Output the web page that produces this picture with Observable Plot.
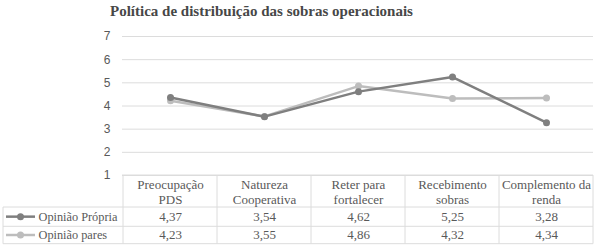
<!DOCTYPE html>
<html><head><meta charset="utf-8">
<script src="https://cdn.jsdelivr.net/npm/d3@7"></script>
<script src="https://cdn.jsdelivr.net/npm/@observablehq/plot@0.6"></script>
<style>
body{margin:0;background:#fff;}
#title{height:22px;line-height:22px;font-weight:bold;font-size:15px;font-family:"Liberation Serif","Times New Roman","DejaVu Serif",serif;color:#474747;padding-left:110px;white-space:nowrap}
</style></head><body>
<div id="title">Política de distribuição das sobras operacionais</div>
<div id="chart"></div>
<script>
const categories = ["Preocupação\nPDS","Natureza\nCooperativa","Reter para\nfortalecer","Recebimento\nsobras","Complemento da\nrenda"];
const seriesNames = ["Opinião Própria","Opinião pares"];
const opiniaoPropria = [4.37,3.54,4.62,5.25,3.28];
const opiniaoPares = [4.23,3.55,4.86,4.32,4.34];
const yTicks = [1,2,3,4,5,6,7];
const colors = ["#7f7f7f","#bdbdbd"];

const serif = "'Liberation Serif', 'Times New Roman', 'DejaVu Serif', serif";
const seriesValues = [opiniaoPropria, opiniaoPares];
const data = seriesNames.flatMap((s, si) => categories.map((c, i) => ({series: s, cat: c, value: seriesValues[si][i]})));
const fmt = v => d3.format(".2f")(v).replace(".", ",");
const gridColor = "#dcdcdc";
const textColor = "#595959";

function tableGrid(index, scales, values, dims) {
  const x = scales.x;
  const step = x(categories[1]) - x(categories[0]);
  const left = dims.marginLeft, right = dims.width - dims.marginRight;
  const top = dims.height - dims.marginBottom;
  const legendLeft = 3;
  const hdr = top + 32, r1 = hdr + 19.3, r2 = r1 + 17.4;
  const g = d3.create("svg:g").attr("fill", "none");
  const ln = (x1, y1, x2, y2) => g.append("line").attr("x1", x1).attr("y1", y1).attr("x2", x2).attr("y2", y2).attr("stroke", gridColor);
  ln(left, top, right, top);
  [hdr, r1, r2].forEach(y => ln(legendLeft, y, right, y));
  categories.forEach(c => ln(x(c) - step / 2, top, x(c) - step / 2, r2));
  ln(right, top, right, r2);
  ln(legendLeft, hdr, legendLeft, r2);
  [[hdr, r1], [r1, r2]].forEach(([a, b], si) => {
    const cy = (a + b) / 2;
    g.append("line").attr("x1", 6).attr("x2", 35).attr("y1", cy).attr("y2", cy)
      .attr("stroke", colors[si]).attr("stroke-width", 2.5);
    g.append("circle").attr("cx", 20.5).attr("cy", cy).attr("r", 3.5).attr("fill", colors[si]);
  });
  return g.node();
}

const marks = [
  Plot.ruleY(yTicks, {stroke: gridColor}),
  Plot.axisY({ticks: yTicks, tickFormat: "d", tickSize: 0, tickPadding: 12, fontSize: 12, fill: textColor, fontFamily: "'Liberation Sans', sans-serif", label: null}),
  tableGrid,
  Plot.text(categories, {x: d => d, text: d => d, frameAnchor: "bottom", dy: 16.5, lineAnchor: "middle", lineHeight: 1.15, fontSize: 13, fill: textColor, fontFamily: serif}),
];
seriesNames.forEach((s, si) => {
  marks.push(Plot.text(data.filter(d => d.series === s), {x: "cat", text: d => fmt(d.value), frameAnchor: "bottom", dy: si === 0 ? 41.5 : 59.5, lineAnchor: "middle", fontSize: 13, fill: textColor, fontFamily: serif}));
  marks.push(Plot.text([s], {text: d => d, frameAnchor: "bottom-left", textAnchor: "start", dx: -84, dy: si === 0 ? 41.5 : 59.5, lineAnchor: "middle", fontSize: 12.3, fill: textColor, fontFamily: serif}));
});
[1, 0].forEach(si => {
  const d = data.filter(r => r.series === seriesNames[si]);
  marks.push(Plot.line(d, {x: "cat", y: "value", stroke: colors[si], strokeWidth: 2.5}));
  marks.push(Plot.dot(d, {x: "cat", y: "value", fill: colors[si], r: 3.5}));
});

const plot = Plot.plot({
  width: 598,
  height: 225,
  marginTop: 14,
  marginBottom: 72,
  marginLeft: 122,
  marginRight: 5,
  x: {type: "point", domain: categories, padding: 0.5, axis: null},
  y: {domain: [1, 7], axis: null},
  style: {fontFamily: serif, background: "#fff", overflow: "visible"},
  marks
});
document.getElementById("chart").appendChild(plot);
</script>
</body></html>
